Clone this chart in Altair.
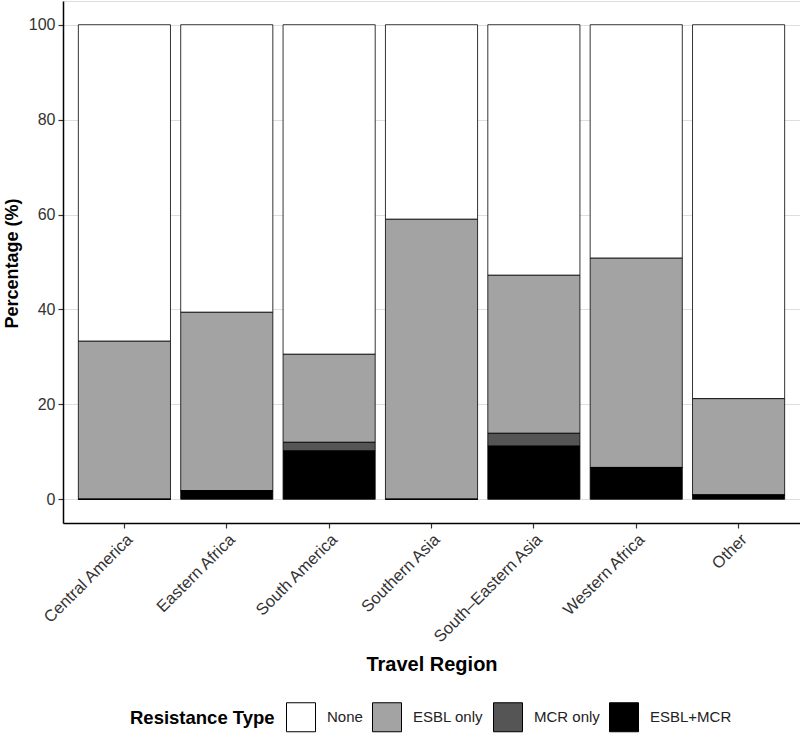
import altair as alt
import pandas as pd

# Share of isolates (%) by travel region and resistance type
regions = ["Central America", "Eastern Africa", "South America", "Southern Asia",
           "South–Eastern Asia", "Western Africa", "Other"]
types = ["None", "ESBL only", "MCR only", "ESBL+MCR"]
esbl_mcr = [0.0, 1.8, 10.2, 0.0, 11.2, 6.7, 0.9]
mcr_only = [0.0, 0.0, 1.8, 0.0, 2.7, 0.0, 0.0]
esbl_only = [33.3, 37.6, 18.55, 59.0, 33.3, 44.1, 20.3]
none = [66.7, 60.6, 69.45, 41.0, 52.8, 49.2, 78.8]
colors = ["#ffffff", "#a3a3a3", "#555555", "#000000"]

series = {"None": none, "ESBL only": esbl_only, "MCR only": mcr_only, "ESBL+MCR": esbl_mcr}
stack_pos = {"ESBL+MCR": 0, "MCR only": 1, "ESBL only": 2, "None": 3}

rows = []
for t in types:
    for r, v in zip(regions, series[t]):
        rows.append({"region": r, "type": t, "pct": v, "pos": stack_pos[t]})
df = pd.DataFrame(rows)

font = "Liberation Sans"

chart = alt.Chart(df).mark_bar(stroke="black", strokeWidth=0.8).encode(
    x=alt.X(
        "region:N",
        sort=regions,
        title="Travel Region",
        scale=alt.Scale(paddingInner=0.1, paddingOuter=0.15),
        axis=alt.Axis(
            labelAngle=-45, labelAlign="right", labelBaseline="top",
            labelFontSize=16.5, labelColor="#333333", labelFont=font,
            labelPadding=3,
            tickSize=5, tickColor="#333333", tickWidth=1.2,
            domainColor="black", domainWidth=1.5,
            titleFontSize=20, titleFontWeight="bold", titleFont=font,
            titleColor="black", titleY=141, titleBaseline="middle",
            grid=False,
        ),
    ),
    y=alt.Y(
        "pct:Q",
        stack="zero",
        title="Percentage (%)",
        scale=alt.Scale(domain=[-5, 105], nice=False, zero=False),
        axis=alt.Axis(
            values=[0, 20, 40, 60, 80, 100],
            labelFontSize=16, labelColor="#333333", labelFont=font,
            labelPadding=3,
            tickSize=5, tickColor="#333333", tickWidth=1.2,
            domainColor="black", domainWidth=1.5,
            grid=True, gridColor="#dedede", gridWidth=1.2,
            titleFontSize=18, titleFontWeight="bold", titleFont=font,
            titleColor="black", titleX=-51, titleY=262, titleBaseline="middle",
        ),
    ),
    color=alt.Color(
        "type:N",
        sort=types,
        scale=alt.Scale(domain=types, range=colors),
        legend=alt.Legend(
            title="Resistance Type",
            orient="none", legendX=67, legendY=701,
            direction="horizontal", titleOrient="left",
            titleFontSize=18.5, titleFontWeight="bold", titleFont=font,
            titleColor="black", titlePadding=11, titleBaseline="middle",
            labelFontSize=15, labelFont=font, labelColor="#222222",
            labelOffset=11, columnPadding=7,
            symbolType="square", symbolSize=841,
            symbolStrokeColor="black", symbolStrokeWidth=1,
            symbolOpacity=1,
        ),
    ),
    order=alt.Order("pos:Q", sort="ascending"),
).properties(
    width=737,
    height=522,
    autosize=alt.AutoSizeParams(type="none"),
    padding={"left": 63, "top": 1, "right": 0, "bottom": 211},
).configure_view(
    stroke=None
).configure(
    background="white"
)

chart.save("out.html", embed_options={"renderer": "svg", "actions": False})
